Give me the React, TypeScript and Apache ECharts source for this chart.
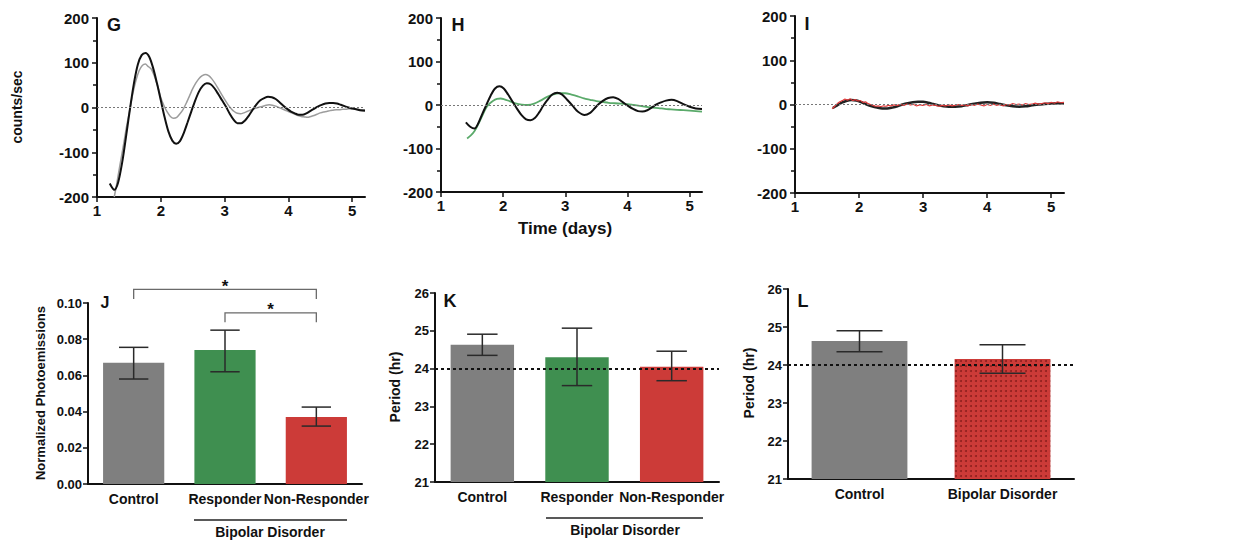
import React, { useEffect, useRef } from 'react';
import * as echarts from 'echarts';

// ---------- Panel G (control) ----------
const gFit = [[1.20,-170],[1.27,-184],[1.33,-168],[1.40,-118],[1.46,-60],[1.52,0],[1.58,55],[1.64,96],[1.70,117],[1.76,122],[1.82,113],[1.88,88],[1.94,54],[2.00,16],[2.06,-22],[2.12,-54],[2.18,-74],[2.24,-81],[2.30,-75],[2.36,-57],[2.42,-33],[2.48,-8],[2.54,16],[2.60,36],[2.66,49],[2.72,54],[2.78,52],[2.84,43],[2.90,30],[2.96,16],[3.02,2],[3.08,-14],[3.14,-27],[3.20,-35],[3.26,-35],[3.32,-29],[3.38,-18],[3.44,-5],[3.50,7],[3.56,16],[3.62,21],[3.68,24],[3.74,23],[3.80,19],[3.86,12],[3.92,4],[3.98,-3],[4.04,-9],[4.10,-13],[4.16,-16],[4.22,-16],[4.28,-13],[4.34,-8],[4.40,-3],[4.46,2],[4.52,6],[4.58,9],[4.64,10],[4.70,10],[4.76,9],[4.82,6],[4.88,3],[4.94,0],[5.00,-2],[5.06,-4],[5.12,-6],[5.20,-7]];
const gData = [[1.27,-200],[1.31,-170],[1.36,-128],[1.41,-88],[1.46,-45],[1.51,-8],[1.56,30],[1.61,60],[1.66,82],[1.71,94],[1.76,97],[1.80,92],[1.85,86],[1.90,70],[1.95,48],[2.00,22],[2.05,4],[2.10,-10],[2.15,-20],[2.20,-24],[2.25,-22],[2.30,-14],[2.35,-4],[2.40,10],[2.45,26],[2.50,42],[2.55,55],[2.60,65],[2.65,71],[2.70,74],[2.75,71],[2.80,64],[2.85,54],[2.90,42],[2.95,30],[3.00,18],[3.05,7],[3.10,-2],[3.15,-9],[3.20,-13],[3.25,-14],[3.30,-12],[3.35,-9],[3.40,-6],[3.45,-3],[3.50,-1],[3.55,1],[3.60,3],[3.65,5],[3.70,6],[3.75,5],[3.80,3],[3.85,0],[3.90,-3],[3.95,-6],[4.00,-9],[4.05,-12],[4.10,-15],[4.15,-18],[4.20,-20],[4.25,-21],[4.30,-22],[4.35,-20],[4.40,-18],[4.45,-15],[4.50,-12],[4.55,-10],[4.60,-9],[4.65,-7],[4.70,-6],[4.75,-5],[4.80,-5],[4.85,-4],[4.90,-4],[4.95,-3],[5.00,-4],[5.05,-4],[5.10,-5],[5.15,-5],[5.20,-5]];

// ---------- Panel H (responder) ----------
const hFit = [[1.40,-40],[1.47,-50],[1.54,-54],[1.60,-42],[1.66,-22],[1.73,0],[1.80,22],[1.87,38],[1.94,43],[2.01,38],[2.08,24],[2.15,8],[2.23,-10],[2.30,-24],[2.37,-33],[2.44,-35],[2.51,-30],[2.58,-17],[2.64,-3],[2.71,11],[2.79,24],[2.87,28],[2.95,24],[3.03,12],[3.12,-2],[3.20,-15],[3.31,-23],[3.40,-18],[3.47,-8],[3.53,1],[3.61,10],[3.69,16],[3.77,18],[3.85,14],[3.93,6],[4.01,-2],[4.09,-9],[4.17,-14],[4.24,-15],[4.32,-12],[4.40,-5],[4.46,1],[4.54,6],[4.62,10],[4.71,12],[4.80,9],[4.90,2],[5.00,-4],[5.10,-8],[5.20,-9]];
const hData = [[1.42,-77],[1.48,-70],[1.54,-60],[1.60,-44],[1.66,-26],[1.72,-8],[1.78,3],[1.84,10],[1.90,14],[1.96,15],[2.02,13],[2.10,9],[2.20,4],[2.30,1],[2.40,0],[2.50,3],[2.60,10],[2.70,18],[2.80,24],[2.90,27],[3.00,27],[3.10,24],[3.20,20],[3.30,15],[3.40,12],[3.50,9],[3.60,7],[3.70,5],[3.80,4],[3.90,3],[4.00,2],[4.10,0],[4.20,-2],[4.30,-4],[4.40,-6],[4.50,-7],[4.60,-9],[4.70,-10],[4.80,-11],[4.90,-12],[5.00,-13],[5.10,-14],[5.20,-15]];

// ---------- Panel I (non-responder) ----------
const iFit = [[1.59,-8],[1.66,-2],[1.73,4],[1.80,8],[1.88,10],[1.96,9],[2.04,5],[2.12,0],[2.20,-4],[2.28,-7],[2.36,-9],[2.44,-9],[2.52,-7],[2.60,-4],[2.68,0],[2.76,3],[2.84,5],[2.92,6],[3.00,6],[3.08,4],[3.16,1],[3.24,-2],[3.32,-4],[3.40,-5],[3.50,-5],[3.60,-4],[3.70,-1],[3.80,2],[3.90,4],[4.00,5],[4.10,4],[4.20,1],[4.30,-2],[4.40,-4],[4.50,-5],[4.60,-4],[4.70,-2],[4.80,0],[4.90,1],[5.00,2],[5.10,3],[5.20,3]];
const iData = [[1.58,-10],[1.62,-4],[1.66,2],[1.70,6],[1.74,9],[1.78,12],[1.82,10],[1.86,13],[1.90,9],[1.94,11],[1.98,8],[2.02,9],[2.06,5],[2.10,6],[2.14,2],[2.18,0],[2.22,-2],[2.26,-4],[2.30,-3],[2.34,-5],[2.38,-3],[2.42,-4],[2.46,-2],[2.50,-3],[2.55,-1],[2.60,-2],[2.65,0],[2.70,-2],[2.75,1],[2.80,-1],[2.85,0],[2.90,-3],[2.95,-1],[3.00,-2],[3.05,0],[3.10,-3],[3.15,-1],[3.20,-2],[3.25,-4],[3.30,-2],[3.35,-3],[3.40,-1],[3.45,-3],[3.50,-2],[3.55,0],[3.60,-2],[3.65,-1],[3.70,-3],[3.75,0],[3.80,-2],[3.85,1],[3.90,-1],[3.95,-3],[4.00,0],[4.05,-2],[4.10,1],[4.15,-2],[4.20,0],[4.25,-3],[4.30,0],[4.35,-1],[4.40,2],[4.45,0],[4.50,1],[4.55,-1],[4.60,2],[4.65,0],[4.70,1],[4.75,3],[4.80,1],[4.85,2],[4.90,4],[4.95,2],[5.00,5],[5.05,3],[5.10,6],[5.15,4],[5.20,5]];

const dayTicks = [1, 2, 3, 4, 5];

// ---------- Panel J ----------
const groups3 = ['Control', 'Responder', 'Non-Responder'];
const meanJ = [0.067, 0.074, 0.037];
const lowJ = [0.058, 0.062, 0.032];
const highJ = [0.0755, 0.085, 0.0425];
const bracketsJ = [[0, 2, 0.1075, 0.1022], [1, 2, 0.0945, 0.0893]];

// ---------- Panel K ----------
const meanK = [24.63, 24.30, 24.05];
const lowK = [24.35, 23.55, 23.68];
const highK = [24.91, 25.07, 24.46];

// ---------- Panel L ----------
const groups2 = ['Control', 'Bipolar Disorder'];
const meanL = [24.63, 24.16];
const lowL = [24.35, 23.78];
const highL = [24.90, 24.53];

const barColors = ['#7f7f7f', '#3f8f50', '#cc3b38'];
const FONT = '"Liberation Sans", Arial, Helvetica, sans-serif';

function errorSeries(idx: number, low: number[], high: number[]) {
  return {
    type: 'custom', xAxisIndex: idx, yAxisIndex: idx, z: 10, clip: false,
    data: low.map((l, i) => [i, l, high[i]]),
    encode: { x: 0, y: [1, 2] },
    renderItem: (params: any, api: any) => {
      const i = api.value(0);
      const lo = api.coord([i, api.value(1)]);
      const hi = api.coord([i, api.value(2)]);
      const half = api.size([1, 0])[0] * 0.67 * 0.24;
      const style = { stroke: '#2a2a2a', lineWidth: 1.5 };
      return {
        type: 'group', children: [
          { type: 'line', shape: { x1: hi[0], y1: hi[1], x2: lo[0], y2: lo[1] }, style },
          { type: 'line', shape: { x1: hi[0] - half, y1: hi[1], x2: hi[0] + half, y2: hi[1] }, style },
          { type: 'line', shape: { x1: lo[0] - half, y1: lo[1], x2: lo[0] + half, y2: lo[1] }, style },
        ],
      };
    },
  };
}

function topX(idx: number) {
  return {
    type: 'value', gridIndex: idx, min: 1, max: 5.2, interval: 1,
    axisLine: { onZero: false, lineStyle: { color: '#111', width: 2 } },
    axisTick: { length: 5, lineStyle: { color: '#111', width: 1.5 }, customValues: dayTicks },
    axisLabel: { color: '#111', fontFamily: FONT, fontWeight: 'bold', fontSize: 15, margin: 6, customValues: dayTicks },
    splitLine: { show: false },
  };
}
function topY(idx: number) {
  return {
    type: 'value', gridIndex: idx, min: -200, max: 200, interval: 100,
    axisLine: { show: true, onZero: false, lineStyle: { color: '#111', width: 2 } },
    axisTick: { show: true, length: 5, lineStyle: { color: '#111', width: 1.5 } },
    minorTick: { show: true, splitNumber: 2, length: 4, lineStyle: { color: '#111', width: 1.5 } },
    axisLabel: { color: '#111', fontFamily: FONT, fontWeight: 'bold', fontSize: 15, margin: 8 },
    splitLine: { show: false },
  };
}
function catX(idx: number, cats: string[]) {
  return {
    type: 'category', gridIndex: idx, data: cats,
    axisLine: { onZero: false, lineStyle: { color: '#111', width: 2 } },
    axisTick: { alignWithLabel: true, length: 6, lineStyle: { color: '#111', width: 1.5 } },
    axisLabel: { interval: 0, color: '#111', fontFamily: FONT, fontWeight: 'bold', fontSize: 14, margin: 8 },
  };
}
function barY(idx: number, min: number, max: number, interval: number, fmt?: (v: number) => string) {
  return {
    type: 'value', gridIndex: idx, min, max, interval, startValue: min,
    axisLine: { show: true, onZero: false, lineStyle: { color: '#111', width: 2 } },
    axisTick: { show: true, length: 5, lineStyle: { color: '#111', width: 1.5 } },
    axisLabel: { color: '#111', fontFamily: FONT, fontWeight: 'bold', fontSize: 13, margin: 6, formatter: fmt },
    splitLine: { show: false },
  };
}
const zeroLine = {
  silent: true, symbol: 'none', label: { show: false },
  lineStyle: { color: '#777', type: [2, 2], width: 1 },
  data: [{ yAxis: 0 }],
};
const dayLine = {
  silent: true, symbol: 'none', label: { show: false },
  lineStyle: { color: '#111', type: [3, 3], width: 2 },
  data: [{ yAxis: 24 }],
};

function txt(text: string, x: number, y: number, size: number, rot = 0) {
  return {
    type: 'text', x, y, rotation: rot, z: 100,
    style: { text, x: 0, y: 0, align: 'center', verticalAlign: 'middle', fill: '#111', font: `bold ${size}px ${FONT}` },
  };
}
function hline(x1: number, x2: number, y: number) {
  return { type: 'line', shape: { x1, y1: y, x2, y2: y }, style: { stroke: '#222', lineWidth: 1.5 } };
}

export default function App() {
  const ref = useRef<HTMLDivElement>(null);
  useEffect(() => {
    if (!ref.current) return;
    const chart = echarts.init(ref.current, undefined, { renderer: 'svg' });
    const option: any = {
      animation: false,
      backgroundColor: '#ffffff',
      grid: [
        { left: 97, top: 18, width: 268, height: 179 },
        { left: 441, top: 18, width: 261, height: 174 },
        { left: 795, top: 16, width: 269, height: 177 },
        { left: 88, top: 303, width: 274, height: 181 },
        { left: 435, top: 293, width: 284, height: 189 },
        { left: 788, top: 289, width: 286, height: 190 },
      ],
      xAxis: [topX(0), topX(1), topX(2), catX(3, groups3), catX(4, groups3), catX(5, groups2)],
      yAxis: [
        topY(0), topY(1), topY(2),
        barY(3, 0, 0.1, 0.02, (v: number) => v.toFixed(2)),
        barY(4, 21, 26, 1),
        barY(5, 21, 26, 1),
      ],
      series: [
        { type: 'line', xAxisIndex: 0, yAxisIndex: 0, data: gData, showSymbol: false, smooth: 0.2, lineStyle: { color: '#9c9c9c', width: 1.5 }, z: 2 },
        { type: 'line', xAxisIndex: 0, yAxisIndex: 0, data: gFit, showSymbol: false, smooth: 0.3, lineStyle: { color: '#111', width: 2 }, z: 3, markLine: zeroLine },
        { type: 'line', xAxisIndex: 1, yAxisIndex: 1, data: hData, showSymbol: false, smooth: 0.3, lineStyle: { color: '#5aaa6a', width: 1.8 }, z: 2 },
        { type: 'line', xAxisIndex: 1, yAxisIndex: 1, data: hFit, showSymbol: false, smooth: 0.3, lineStyle: { color: '#111', width: 2 }, z: 3, markLine: zeroLine },
        { type: 'line', xAxisIndex: 2, yAxisIndex: 2, data: iFit, showSymbol: false, smooth: 0.3, lineStyle: { color: '#222', width: 2.5 }, z: 2, markLine: zeroLine },
        { type: 'line', xAxisIndex: 2, yAxisIndex: 2, data: iData, showSymbol: false, smooth: 0.2, lineStyle: { color: '#e03a3a', width: 1.2 }, z: 3 },
        {
          type: 'bar', xAxisIndex: 3, yAxisIndex: 3, barWidth: '67%',
          data: meanJ.map((v, i) => ({ value: v, itemStyle: { color: barColors[i] } })),
        },
        errorSeries(3, lowJ, highJ),
        {
          type: 'custom', xAxisIndex: 3, yAxisIndex: 3, clip: false, z: 10,
          data: bracketsJ,
          encode: { x: [0, 1], y: [2, 3] },
          renderItem: (params: any, api: any) => {
            const a = api.value(0), b = api.value(1), top = api.value(2), end = api.value(3);
            const p1 = api.coord([a, top]);
            const p2 = api.coord([b, top]);
            const e1 = api.coord([a, end]);
            const e2 = api.coord([b, end]);
            return {
              type: 'group', children: [
                { type: 'polyline', shape: { points: [e1, p1, p2, e2] }, style: { stroke: '#6a6a6a', lineWidth: 1.3, fill: 'none' } },
                { type: 'text', style: { text: '*', x: (p1[0] + p2[0]) / 2, y: p1[1] - 3, align: 'center', verticalAlign: 'middle', fill: '#111', font: `bold 17px ${FONT}` } },
              ],
            };
          },
        },
        {
          type: 'bar', xAxisIndex: 4, yAxisIndex: 4, barWidth: '67%',
          data: meanK.map((v, i) => ({ value: v, itemStyle: { color: barColors[i] } })),
          markLine: dayLine,
        },
        errorSeries(4, lowK, highK),
        {
          type: 'bar', xAxisIndex: 5, yAxisIndex: 5, barWidth: '67%', barGap: '-100%',
          data: [meanL[0], '-'], itemStyle: { color: barColors[0] },
          markLine: dayLine,
        },
        {
          type: 'bar', xAxisIndex: 5, yAxisIndex: 5, barWidth: '67%', barGap: '-100%',
          data: ['-', meanL[1]],
          itemStyle: {
            color: barColors[2],
            decal: { symbol: 'circle', symbolSize: 1, color: 'rgba(70,0,0,0.45)', dashArrayX: [1.6, 2.4], dashArrayY: [1.6, 2.4] },
          },
        },
        errorSeries(5, lowL, highL),
      ],
      graphic: [
        txt('counts/sec', 17, 107, 14, Math.PI / 2),
        txt('Time (days)', 565, 228, 17),
        txt('Normalized Photoemissions', 40, 393, 13, Math.PI / 2),
        txt('Period (hr)', 395, 387, 14, Math.PI / 2),
        txt('Period (hr)', 749, 383, 14, Math.PI / 2),
        txt('G', 114, 25, 18),
        txt('H', 458, 25, 18),
        txt('I', 807, 24, 18),
        txt('J', 105, 302, 16),
        txt('K', 450, 301, 18),
        txt('L', 803, 301, 18),
        hline(194, 347, 520),
        txt('Bipolar Disorder', 270, 532, 14),
        hline(546, 703, 518),
        txt('Bipolar Disorder', 625, 530, 14),
      ],
    };
    chart.setOption(option);
    return () => chart.dispose();
  }, []);
  return <div ref={ref} style={{ position: 'fixed', left: 0, top: 0, width: 1254, height: 546 }} />;
}
